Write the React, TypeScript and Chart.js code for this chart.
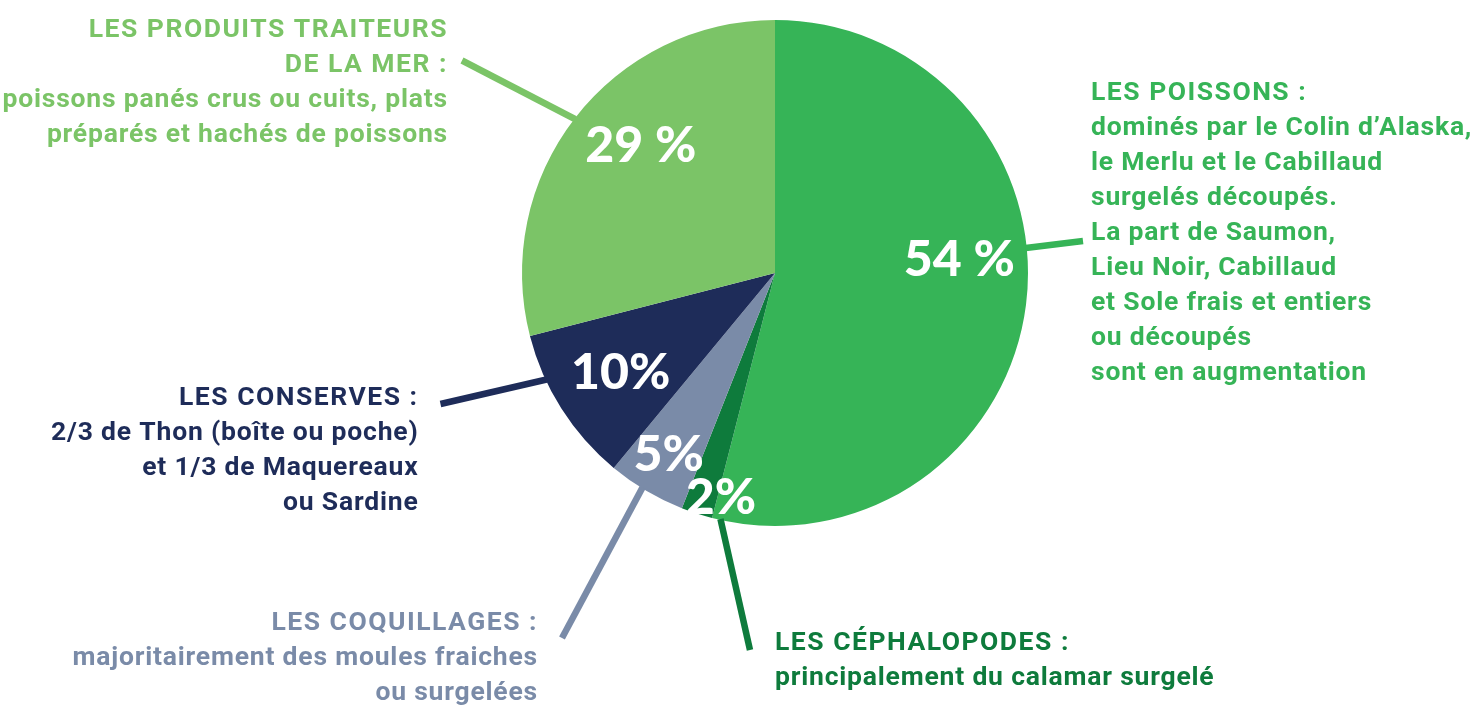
import React, { useEffect, useRef } from "react";
import { Chart, registerables } from "chart.js";

Chart.register(...registerables);

// ---- data ----
const categories = [
  "Les poissons",
  "Les céphalopodes",
  "Les coquillages",
  "Les conserves",
  "Les produits traiteurs de la mer",
];
const shares = [54, 2, 5, 10, 29];
const percentLabels = ["54 %", "2%", "5%", "10%", "29 %"];
const sliceColors = ["#36b457", "#0e7b3c", "#7a8ba8", "#1e2c59", "#7bc467"];

const descPoissons = [
  "LES POISSONS :",
  "dominés par le Colin d’Alaska,",
  "le Merlu et le Cabillaud",
  "surgelés découpés.",
  "La part de Saumon,",
  "Lieu Noir, Cabillaud",
  "et Sole frais et entiers",
  "ou découpés",
  "sont en augmentation",
];
const descCephalopodes = ["LES CÉPHALOPODES :", "principalement du calamar surgelé"];
const descCoquillages = [
  "LES COQUILLAGES :",
  "majoritairement des moules fraiches",
  "ou surgelées",
];
const descConserves = [
  "LES CONSERVES :",
  "2/3 de Thon (boîte ou poche)",
  "et 1/3 de Maquereaux",
  "ou Sardine",
];
const descTraiteurs = [
  "LES PRODUITS TRAITEURS",
  "DE LA MER :",
  "poissons panés crus ou cuits, plats",
  "préparés et hachés de poissons",
];
const descriptions = [descPoissons, descCephalopodes, descCoquillages, descConserves, descTraiteurs];

// ---- callout layout (relative to the pie centre) ----
const calloutLayout = [
  { labelR: 0.731, labelDA: -12, edgeA: -5.7, end: [308, -32], text: [316, -173], align: "left" },
  { labelR: 0.907, labelDA: -4.4, edgeA: 102.5, end: [-25, 377], text: [0, 377], align: "left" },
  { labelR: 0.826, labelDA: 0, edgeA: 121.7, end: [-213, 365], text: [-237, 357], align: "right" },
  { labelR: 0.723, labelDA: 0, edgeA: 155, end: [-334.5, 131], text: [-356.5, 132], align: "right" },
  { labelR: 0.735, labelDA: 6, edgeA: 217.6, end: [-313, -212.5], text: [-327, -236], align: "right" },
];

const TEXT_FONT = "bold 26.5px Roboto, 'Noto Sans', sans-serif";
const PCT_FONT = "900 50px Lato, 'Noto Sans', sans-serif";

const calloutPlugin = {
  id: "callouts",
  afterDatasetsDraw(chart: any) {
    const ctx: CanvasRenderingContext2D = chart.ctx;
    const meta = chart.getDatasetMeta(0);
    const deg = Math.PI / 180;
    // leader lines
    meta.data.forEach((arc: any, i: number) => {
      const p = arc.getProps(["x", "y", "outerRadius"], true);
      const c = calloutLayout[i];
      const a = c.edgeA * deg;
      ctx.save();
      ctx.strokeStyle = sliceColors[i];
      ctx.lineWidth = 6.5;
      ctx.lineCap = "butt";
      ctx.beginPath();
      ctx.moveTo(p.x + Math.cos(a) * (p.outerRadius - 1), p.y + Math.sin(a) * (p.outerRadius - 1));
      ctx.lineTo(p.x + c.end[0], p.y + c.end[1]);
      ctx.stroke();
      ctx.restore();
    });
    // percentage labels
    meta.data.forEach((arc: any, i: number) => {
      const p = arc.getProps(["x", "y", "startAngle", "endAngle", "outerRadius"], true);
      const c = calloutLayout[i];
      const mid = (p.startAngle + p.endAngle) / 2 + c.labelDA * deg;
      const r = p.outerRadius * c.labelR;
      const lx = p.x + Math.cos(mid) * r;
      const ly = p.y + Math.sin(mid) * r;
      ctx.save();
      ctx.font = PCT_FONT;
      ctx.fillStyle = "#ffffff";
      ctx.textAlign = "center";
      ctx.textBaseline = "alphabetic";
      ctx.fillText(percentLabels[i], lx, ly + 18);
      ctx.restore();
    });
    // description texts
    meta.data.forEach((arc: any, i: number) => {
      const p = arc.getProps(["x", "y"], true);
      const c = calloutLayout[i];
      ctx.save();
      ctx.font = TEXT_FONT;
      ctx.fillStyle = sliceColors[i];
      ctx.textAlign = c.align as CanvasTextAlign;
      ctx.textBaseline = "alphabetic";
      descriptions[i].forEach((line, k) => {
        const caps = line === line.toUpperCase();
        (ctx as any).letterSpacing = caps ? "1.5px" : "0.8px";
        ctx.fillText(line, p.x + c.text[0], p.y + c.text[1] + k * 35);
      });
      ctx.restore();
    });
  },
};

export default function App() {
  const ref = useRef<HTMLCanvasElement | null>(null);
  useEffect(() => {
    document.body.style.margin = "0";
    const canvas = ref.current;
    if (!canvas) return;
    const chart = new Chart(canvas, {
      type: "pie",
      data: {
        labels: categories,
        datasets: [
          {
            data: shares,
            backgroundColor: sliceColors,
            borderWidth: 0,
            hoverOffset: 0,
          },
        ],
      },
      options: {
        responsive: false,
        animation: false,
        layout: { padding: { left: 522, right: 451, top: 20, bottom: 182 } },
        plugins: {
          legend: { display: false },
          tooltip: { enabled: false },
        },
      },
      plugins: [calloutPlugin],
    });
    return () => chart.destroy();
  }, []);
  return (
    <div style={{ width: 1479, height: 708, background: "#ffffff" }}>
      <canvas ref={ref} width={1479} height={708} />
    </div>
  );
}
